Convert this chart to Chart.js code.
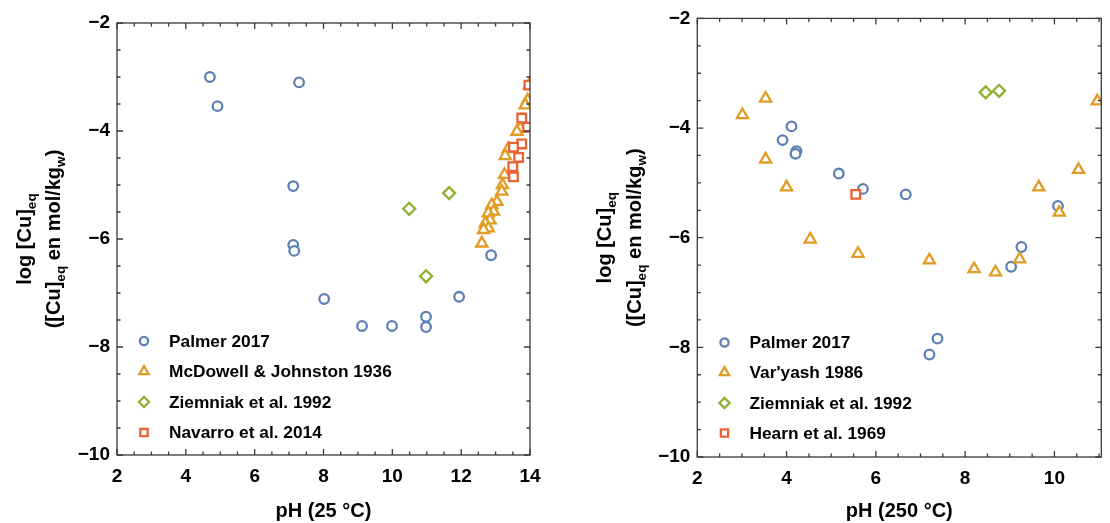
<!DOCTYPE html>
<html><head><meta charset="utf-8">
<script src="https://cdn.jsdelivr.net/npm/chart.js@4/dist/chart.umd.min.js"></script>
<style>
html,body{margin:0;padding:0;background:#fff;}
#wrap{position:relative;width:1110px;height:523px;overflow:hidden;}
canvas{position:absolute;left:0;top:0;}
</style></head><body>
<div id="wrap"><canvas id="c1" width="1110" height="523"></canvas><canvas id="c2" width="1110" height="523"></canvas></div>
<script>
// ---------- Data: left panel (pH at 25 °C) ----------
const palmer25X   = [4.70, 4.92, 7.29, 7.12, 7.12, 7.15, 8.02, 9.12, 9.99, 10.98, 10.98, 11.94, 12.87];
const palmer25Y   = [-3.00, -3.54, -3.10, -5.02, -6.11, -6.22, -7.11, -7.61, -7.61, -7.44, -7.63, -7.07, -6.30];
const mcdowellX   = [13.98, 13.93, 13.86, 13.72, 13.62, 13.37, 13.28, 13.26, 13.20, 13.18, 13.04, 12.89, 12.94, 12.79, 12.84, 12.70, 12.79, 12.65, 12.60];
const mcdowellY   = [-3.15, -3.43, -3.52, -3.95, -4.01, -4.33, -4.46, -4.81, -5.00, -5.12, -5.31, -5.37, -5.49, -5.52, -5.65, -5.71, -5.80, -5.83, -6.08];
const ziemniak25X = [10.49, 11.65, 10.98];
const ziemniak25Y = [-5.44, -5.15, -6.69];
const navarroX    = [13.97, 13.76, 13.93, 13.76, 13.52, 13.67, 13.50, 13.52];
const navarroY    = [-3.15, -3.76, -3.93, -4.24, -4.30, -4.49, -4.66, -4.85];

// ---------- Data: right panel (pH at 250 °C) ----------
const palmer250X   = [4.11, 3.91, 4.22, 4.20, 5.17, 5.71, 6.67, 10.08, 9.26, 9.03, 7.20, 7.38];
const palmer250Y   = [-3.97, -4.22, -4.42, -4.47, -4.83, -5.11, -5.21, -5.42, -6.17, -6.53, -8.13, -7.84];
const varyashX     = [3.01, 3.53, 3.53, 4.00, 4.53, 5.60, 7.20, 8.20, 8.68, 9.22, 9.65, 10.11, 10.54, 10.96];
const varyashY     = [-3.76, -3.46, -4.57, -5.08, -6.03, -6.29, -6.41, -6.57, -6.63, -6.39, -5.08, -5.54, -4.76, -3.51];
const ziemniak250X = [8.46, 8.76];
const ziemniak250Y = [-3.35, -3.32];
const hearnX       = [5.55];
const hearnY       = [-5.21];

// ---------- Tick labels ----------
const xTicks25  = [2, 4, 6, 8, 10, 12, 14];
const xTicks250 = [2, 4, 6, 8, 10];
const yTicks    = [-10, -8, -6, -4, -2];

const FAMILY = '"Liberation Sans", Arial, Helvetica, sans-serif';
Chart.defaults.font.family = FAMILY;
const COLORS = {blue:'#5E81B5', orange:'#E19C24', green:'#8FB032', red:'#EB6235'};
const MARK_W = 2.3;

function pts(xs, ys){ return xs.map((x,i)=>({x:x, y:ys[i]})); }
function ds(label, xs, ys, color, style, r, order){
  return {label, data: pts(xs, ys), pointStyle: style, pointRadius: r, pointHoverRadius: r,
    pointBorderWidth: MARK_W, pointHoverBorderWidth: MARK_W, borderWidth: MARK_W,
    pointBorderColor: color, pointBackgroundColor: '#ffffff',
    borderColor: color, backgroundColor: '#ffffff', showLine:false, order, clip: 0};
}
function minus(v){ return (v < 0 ? '\u2212' : '') + Math.abs(v); }

// frame + inward ticks
const framePlugin = {
  id: 'frameTicks',
  afterDatasetsDraw(chart, args, o){
    const {ctx, chartArea: a, scales:{x, y}} = chart;
    ctx.save();
    ctx.strokeStyle = '#3a3a3a'; ctx.lineWidth = 1.3;
    ctx.strokeRect(a.left, a.top, a.right - a.left, a.bottom - a.top);
    ctx.beginPath();
    for (let k = 0; ; k++){
      const v = Math.round((x.min + k*0.5)*100)/100; if (v > x.max + 1e-9) break;
      const px = x.getPixelForValue(v); const L = o.xMajor.includes(v) ? 6 : 3.5;
      ctx.moveTo(px, a.bottom); ctx.lineTo(px, a.bottom - L);
      ctx.moveTo(px, a.top); ctx.lineTo(px, a.top + L);
    }
    for (let k = 0; ; k++){
      const v = Math.round((y.min + k*0.5)*100)/100; if (v > y.max + 1e-9) break;
      const py = y.getPixelForValue(v); const L = o.yMajor.includes(v) ? 6 : 3.5;
      ctx.moveTo(a.left, py); ctx.lineTo(a.left + L, py);
      ctx.moveTo(a.right, py); ctx.lineTo(a.right - L, py);
    }
    ctx.stroke(); ctx.restore();
  }
};

function drawRich(ctx, segs, cx, cy, size){
  const sub = size*0.68;
  ctx.save(); ctx.translate(cx, cy); ctx.rotate(-Math.PI/2);
  let total = 0;
  const ws = segs.map(s => { ctx.font = 'bold ' + (s.sub ? sub : size) + 'px ' + FAMILY; const w = ctx.measureText(s.t).width; total += w; return w; });
  let xx = -total/2; const base = size*0.36;
  ctx.fillStyle = '#000'; ctx.textAlign = 'left'; ctx.textBaseline = 'alphabetic';
  segs.forEach((s,i) => { ctx.font = 'bold ' + (s.sub ? sub : size) + 'px ' + FAMILY; ctx.fillText(s.t, xx, base + (s.sub ? size*0.24 : 0)); xx += ws[i]; });
  ctx.restore();
}
const yTitle1 = [{t:'log [Cu]'},{t:'eq',sub:true}];
const yTitle2 = [{t:'([Cu]'},{t:'eq',sub:true},{t:' en mol/kg'},{t:'w',sub:true},{t:')'}];

const titlePlugin = {
  id: 'yTitle',
  afterDraw(chart, args, o){
    const ctx = chart.ctx; const a = chart.chartArea; const cy = (a.top + a.bottom)/2;
    drawRich(ctx, yTitle1, o.x1, cy, 20);
    drawRich(ctx, yTitle2, o.x2, cy, 20);
  }
};

const legendPlugin = {
  id: 'customLegend',
  afterDraw(chart, args, o){
    const ctx = chart.ctx;
    chart.data.datasets.forEach((d, i) => {
      const y = o.rows[i];
      ctx.save();
      ctx.strokeStyle = d.pointBorderColor; ctx.fillStyle = '#fff'; ctx.lineWidth = MARK_W;
      Chart.helpers.drawPoint(ctx, {pointStyle: d.pointStyle, radius: d.pointRadius*0.85, borderWidth: MARK_W, rotation: 0}, o.mx, y);
      ctx.fillStyle = '#000'; ctx.font = 'bold 17.3px ' + FAMILY; ctx.textBaseline = 'middle'; ctx.textAlign = 'left';
      ctx.fillText(d.label, o.tx, y + 1);
      ctx.restore();
    });
  }
};

function makeOptions(cfg){
  return {
    responsive:false, animation:false, devicePixelRatio:1, events:[],
    layout:{padding:cfg.padding},
    elements:{point:{borderWidth:MARK_W}},
    plugins:{legend:{display:false}, tooltip:{enabled:false},
      frameTicks:{xMajor:cfg.xTicks, yMajor:yTicks},
      yTitle:{x1:cfg.t1, x2:cfg.t2},
      customLegend:cfg.legend},
    scales:{
      x:{type:'linear', min:cfg.xmin, max:cfg.xmax,
        afterBuildTicks: s => { s.ticks = cfg.xTicks.map(v=>({value:v})); },
        afterFit: s => { s.height = cfg.xh; },
        grid:{display:false, drawTicks:false}, border:{display:false},
        ticks:{color:'#000', autoSkip:false, maxRotation:0, padding:10, font:{size:19, weight:'bold'}},
        title:{display:true, text:cfg.xTitle, color:'#000', font:{size:20, weight:'bold', lineHeight:1.2}, padding:{top:0, bottom:0}}},
      y:{type:'linear', min:-10, max:-2,
        afterBuildTicks: s => { s.ticks = yTicks.map(v=>({value:v})); },
        afterFit: s => { s.width = cfg.yw; },
        grid:{display:false, drawTicks:false}, border:{display:false},
        ticks:{color:'#000', autoSkip:false, padding:7, font:{size:19, weight:'bold'}, callback: v => minus(v)}}
    }
  };
}

new Chart(document.getElementById('c1'), {
  type:'scatter',
  data:{datasets:[
    ds('Palmer 2017', palmer25X, palmer25Y, COLORS.blue, 'circle', 4.8, 4),
    ds('McDowell & Johnston 1936', mcdowellX, mcdowellY, COLORS.orange, 'triangle', 6.4, 3),
    ds('Ziemniak et al. 1992', ziemniak25X, ziemniak25Y, COLORS.green, 'rectRot', 6.0, 2),
    ds('Navarro et al. 2014', navarroX, navarroY, COLORS.red, 'rect', 6.1, 1)
  ]},
  options: makeOptions({padding:{top:23, right:580, left:0, bottom:0}, xmin:2, xmax:14, xTicks:xTicks25, xh:68, yw:117,
    xTitle:'pH (25 °C)', t1:24, t2:53, legend:{mx:144, tx:169, rows:[341, 371.5, 402, 432.5]}}),
  plugins:[framePlugin, titlePlugin, legendPlugin]
});

new Chart(document.getElementById('c2'), {
  type:'scatter',
  data:{datasets:[
    ds('Palmer 2017', palmer250X, palmer250Y, COLORS.blue, 'circle', 4.8, 4),
    ds("Var'yash 1986", varyashX, varyashY, COLORS.orange, 'triangle', 6.4, 3),
    ds('Ziemniak et al. 1992', ziemniak250X, ziemniak250Y, COLORS.green, 'rectRot', 6.0, 2),
    ds('Hearn et al. 1969', hearnX, hearnY, COLORS.red, 'rect', 6.1, 1)
  ]},
  options: makeOptions({padding:{top:18, right:0.5, left:0, bottom:0}, xmin:2, xmax:11.05, xTicks:xTicks250, xh:66, yw:697.3,
    xTitle:'pH (250 °C)', t1:604, t2:634, legend:{mx:724.5, tx:749.5, rows:[342.5, 372.5, 403, 433]}}),
  plugins:[framePlugin, titlePlugin, legendPlugin]
});
</script>
</body></html>
